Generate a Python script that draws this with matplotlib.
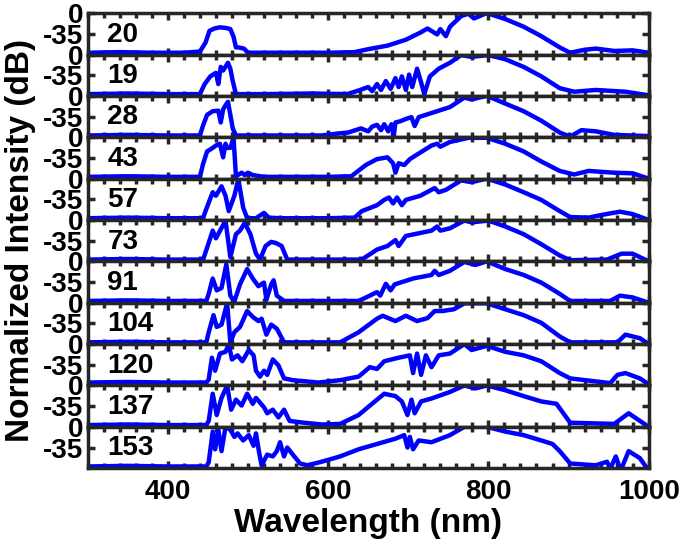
import matplotlib
matplotlib.use("Agg")
import matplotlib.pyplot as plt
from matplotlib.ticker import MultipleLocator

plt.rcParams['font.family'] = ['Liberation Sans', 'DejaVu Sans']
plt.rcParams['font.weight'] = 'bold'

labels = ['20', '19', '28', '43', '57', '73', '91', '104', '120', '137', '153']

wl_20 = [300, 340, 380, 420, 440, 447, 452, 458, 465, 472, 478, 482, 485, 488, 495, 500, 540, 600, 633, 650, 674, 697, 715, 724, 736, 740, 747, 752, 766, 775, 782, 798, 821, 844, 866, 889, 902, 920, 934, 957, 980, 1000]
db_20 = [-67, -66, -67, -67, -65, -50, -30, -26, -24, -25, -27, -40, -58, -58, -60, -67, -67, -67, -66, -61, -55, -45, -33, -26, -36, -27, -39, -23, -5, -1, -9, 0, -10, -23, -39, -58, -67, -62, -60, -64, -63, -67]

wl_19 = [300, 350, 400, 440, 446, 453, 460, 463, 466, 469, 475, 478, 481, 485, 520, 580, 624, 640, 650, 655, 661, 666, 672, 678, 684, 688, 692, 697, 701, 705, 711, 716, 720, 727, 738, 752, 766, 779, 800, 821, 844, 866, 889, 907, 934, 971, 1000]
db_19 = [-67, -66, -67, -67, -50, -37, -31, -50, -21, -27, -14, -24, -45, -67, -67, -66, -67, -60, -55, -62, -50, -60, -45, -58, -40, -55, -37, -60, -34, -55, -24, -47, -67, -37, -24, -14, -1, -4, -1, -8, -21, -37, -57, -63, -60, -63, -69]

wl_28 = [300, 350, 400, 440, 444, 449, 456, 463, 466, 469, 472, 475, 478, 481, 485, 540, 592, 610, 625, 641, 650, 655, 661, 666, 670, 675, 679, 682, 684, 690, 697, 704, 708, 713, 729, 752, 770, 779, 798, 821, 844, 866, 889, 902, 916, 934, 957, 1000]
db_28 = [-67, -66, -67, -67, -50, -32, -26, -25, -45, -23, -16, -10, -32, -55, -67, -67, -67, -64, -62, -55, -60, -52, -49, -58, -48, -60, -48, -67, -45, -43, -39, -36, -51, -36, -29, -19, -3, -6, 0, -13, -26, -42, -62, -69, -58, -60, -66, -68]

wl_43 = [300, 350, 400, 440, 444, 449, 456, 460, 465, 469, 472, 474, 478, 482, 485, 492, 496, 500, 506, 520, 600, 629, 647, 661, 674, 681, 684, 688, 695, 702, 729, 736, 740, 752, 775, 798, 821, 844, 866, 889, 907, 925, 957, 980, 1000]
db_43 = [-67, -66, -67, -67, -45, -24, -18, -14, -11, -34, -11, -18, -18, -1, -66, -60, -64, -60, -64, -67, -67, -66, -47, -37, -34, -44, -60, -44, -47, -37, -14, -11, -16, -8, -1, -1, -11, -24, -41, -57, -63, -57, -60, -61, -70]

wl_57 = [300, 350, 400, 444, 447, 456, 460, 467, 472, 476, 483, 488, 494, 499, 510, 520, 526, 540, 600, 633, 642, 661, 670, 676, 681, 686, 692, 697, 715, 733, 738, 747, 766, 779, 798, 821, 844, 866, 889, 902, 925, 943, 964, 980, 1000]
db_57 = [-67, -66, -67, -67, -55, -23, -29, -13, -29, -55, -29, -1, -49, -67, -67, -58, -66, -67, -67, -66, -55, -45, -36, -32, -42, -32, -45, -36, -29, -16, -23, -19, -3, -6, 0, -10, -23, -36, -55, -65, -66, -61, -56, -60, -70]

wl_73 = [300, 350, 400, 444, 447, 456, 460, 472, 478, 485, 490, 496, 503, 510, 515, 522, 529, 535, 542, 549, 600, 642, 661, 674, 684, 688, 697, 729, 736, 740, 752, 770, 779, 800, 821, 844, 866, 889, 902, 948, 966, 980, 1000]
db_73 = [-67, -66, -67, -67, -55, -18, -31, -1, -63, -24, -18, -5, -24, -57, -67, -44, -37, -39, -44, -67, -67, -67, -50, -44, -34, -44, -27, -18, -11, -18, -14, -1, -4, -1, -11, -24, -41, -60, -68, -67, -57, -57, -70]

wl_91 = [300, 350, 400, 448, 451, 456, 461, 467, 473, 478, 483, 490, 499, 506, 513, 520, 523, 529, 532, 536, 545, 600, 638, 652, 661, 665, 672, 678, 683, 706, 729, 733, 738, 752, 770, 784, 798, 821, 844, 866, 889, 902, 952, 964, 980, 1000]
db_91 = [-67, -66, -67, -67, -55, -29, -49, -45, -5, -58, -68, -39, -13, -29, -42, -36, -65, -39, -32, -58, -67, -67, -67, -58, -52, -58, -38, -49, -39, -29, -23, -16, -23, -16, -1, -6, 0, -13, -23, -36, -55, -67, -67, -58, -61, -70]

wl_104 = [300, 350, 400, 448, 451, 457, 461, 467, 474, 478, 483, 490, 499, 506, 513, 517, 523, 529, 536, 545, 600, 615, 638, 661, 668, 684, 697, 711, 724, 733, 743, 757, 770, 798, 821, 844, 866, 889, 902, 961, 971, 989, 1000]
db_104 = [-67, -66, -67, -67, -50, -21, -41, -37, -1, -67, -50, -41, -14, -24, -31, -27, -54, -37, -44, -67, -67, -67, -50, -27, -22, -31, -22, -31, -26, -14, -14, -11, -1, -1, -11, -21, -34, -57, -67, -67, -54, -60, -70]

wl_120 = [300, 350, 400, 448, 451, 455, 459, 465, 472, 476, 480, 487, 493, 501, 507, 510, 515, 520, 524, 531, 538, 545, 556, 588, 615, 638, 652, 661, 670, 688, 702, 706, 711, 716, 722, 729, 738, 752, 770, 779, 798, 821, 844, 866, 889, 902, 952, 961, 971, 989, 1000]
db_120 = [-65, -64, -65, -65, -60, -23, -45, -16, -13, 0, -26, -19, -29, -10, -19, -45, -55, -45, -52, -26, -36, -58, -61, -65, -61, -55, -39, -42, -29, -23, -19, -49, -16, -52, -19, -39, -19, -16, 0, -10, -3, -13, -19, -29, -49, -58, -66, -52, -49, -58, -68]

wl_137 = [300, 350, 400, 448, 451, 456, 461, 467, 474, 479, 485, 492, 499, 506, 510, 520, 524, 531, 538, 545, 552, 570, 592, 615, 638, 661, 670, 684, 692, 699, 704, 708, 716, 729, 752, 770, 784, 798, 821, 844, 866, 885, 902, 957, 975, 1000]
db_137 = [-67, -66, -67, -67, -60, -14, -50, -21, 0, -41, -24, -34, -14, -31, -21, -37, -47, -41, -54, -41, -60, -63, -66, -65, -50, -24, -14, -18, -27, -50, -24, -47, -27, -22, -11, 0, -5, 0, -8, -18, -27, -31, -63, -65, -47, -70]

wl_153 = [300, 350, 400, 448, 451, 456, 459, 463, 467, 472, 478, 483, 487, 494, 501, 507, 510, 514, 517, 524, 531, 536, 540, 545, 549, 556, 565, 574, 592, 615, 638, 661, 684, 695, 699, 702, 706, 713, 729, 752, 770, 798, 821, 844, 866, 880, 889, 902, 934, 948, 952, 959, 965, 975, 989, 1000]
db_153 = [-67, -66, -67, -67, -60, -8, -38, -5, -41, 0, -5, -17, -11, -23, -14, -32, -11, -44, -65, -47, -50, -41, -26, -50, -35, -47, -62, -65, -59, -50, -38, -29, -20, -14, -35, -17, -38, -23, -26, -14, 0, 0, -8, -14, -23, -29, -41, -62, -65, -59, -71, -50, -74, -41, -53, -74]

spectra = [(wl_20, db_20), (wl_19, db_19), (wl_28, db_28), (wl_43, db_43),
           (wl_57, db_57), (wl_73, db_73), (wl_91, db_91), (wl_104, db_104),
           (wl_120, db_120), (wl_137, db_137), (wl_153, db_153)]

fig, axes = plt.subplots(len(labels), 1, sharex=True, figsize=(6.85, 5.47), dpi=100)
fig.subplots_adjust(left=0.128, right=0.947, top=0.976, bottom=0.144, hspace=0)

frame = '#262626'
for ax, lab, (wl, db) in zip(axes, labels, spectra):
    ax.plot(wl, db, color='#0000ff', lw=3.2, solid_joinstyle='round')
    ax.set_xlim(300, 1000)
    ax.set_ylim(-70, 0)
    ax.set_yticks([-35, 0])
    ax.set_yticklabels(['-35', '0'])
    ax.xaxis.set_major_locator(MultipleLocator(200))
    ax.xaxis.set_minor_locator(MultipleLocator(20))
    ax.tick_params(axis='both', which='both', direction='in', top=True, right=True,
                   color=frame, labelsize=20, pad=3)
    ax.tick_params(which='major', length=5, width=2.5)
    ax.tick_params(which='minor', length=3.5, width=2.5)
    ax.tick_params(axis='x', labelbottom=False)
    for s in ax.spines.values():
        s.set_linewidth(2.5)
        s.set_color(frame)
    ax.text(0.035, 0.48, lab, transform=ax.transAxes, ha='left', va='center',
            fontsize=20, fontweight='bold')

axes[-1].tick_params(axis='x', labelbottom=True, pad=8)
axes[-1].set_xlabel('Wavelength (nm)', fontsize=24, fontweight='bold', labelpad=2)
fig.text(0.03, 0.56, 'Normalized Intensity (dB)', rotation=90, ha='center', va='center',
         fontsize=24, fontweight='bold')

fig.savefig('out.png', dpi=100)
